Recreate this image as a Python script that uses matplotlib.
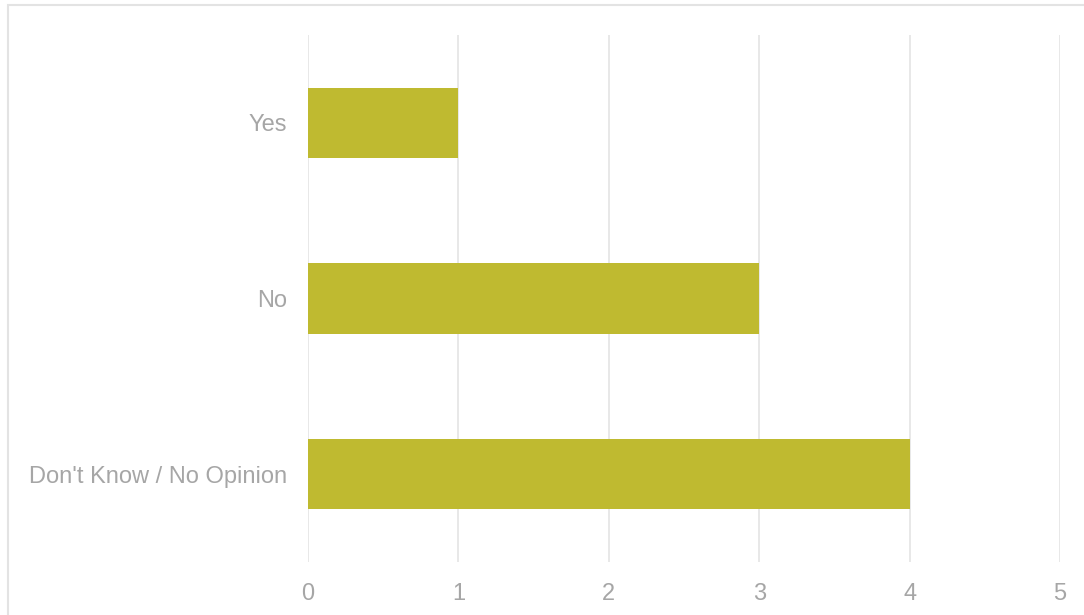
import matplotlib.pyplot as plt
from matplotlib.patches import Rectangle

# Responses and counts
categories = ["Yes", "No", "Don't Know / No Opinion"]
counts = [1, 3, 4]
xticks = [0, 1, 2, 3, 4, 5]

bar_color = '#bfba30'
text_color = '#a6a6a6'
grid_color = '#e6e6e6'

plt.rcParams['font.family'] = ['Liberation Sans', 'DejaVu Sans']

fig = plt.figure(figsize=(10.84, 6.15), dpi=100)
ax = fig.add_axes([308 / 1084, 1 - 562 / 615, 752 / 1084, 527 / 615])

y = list(range(len(categories)))
ax.barh(y, counts, height=0.4, color=bar_color, zorder=3)

ax.set_ylim(len(categories) - 0.5, -0.5)
ax.set_xlim(0, 5)
ax.set_yticks(y)
ax.set_yticklabels(categories)
ax.set_xticks(xticks)
ax.set_xticklabels([str(t) for t in xticks])

ax.grid(axis='x', color=grid_color, linewidth=1.3, zorder=0)
for s in ax.spines.values():
    s.set_visible(False)
ax.tick_params(axis='both', length=0, labelsize=17, colors=text_color)
ax.tick_params(axis='y', pad=15)
ax.tick_params(axis='x', pad=15)

# light frame around the chart area
fig.patches.append(Rectangle((8 / 1084, -0.05), 1.2, 1 - 5 / 615 + 0.05,
                             transform=fig.transFigure, fill=False,
                             edgecolor='#e3e3e3', linewidth=1.5))

fig.savefig('out.png', dpi=100, facecolor='white')
